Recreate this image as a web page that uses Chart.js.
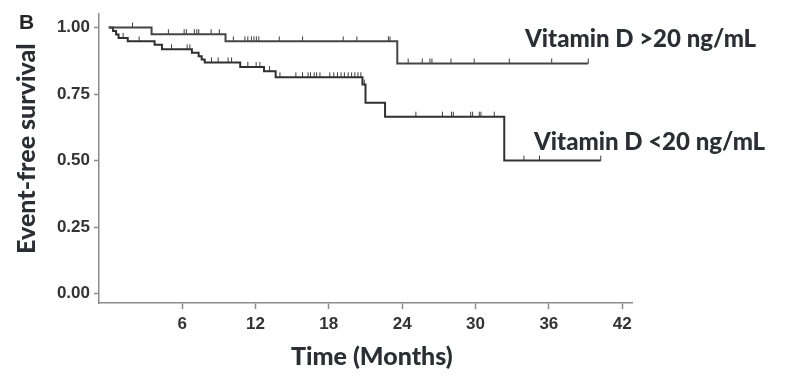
<!DOCTYPE html>
<html>
<head>
<meta charset="utf-8">
<script src="https://cdn.jsdelivr.net/npm/chart.js@4/dist/chart.umd.min.js"></script>
<style>
  html, body { margin: 0; padding: 0; background: #ffffff; }
  #wrap { width: 802px; height: 382px; }
</style>
</head>
<body>
<div id="wrap"><canvas id="c" width="802" height="382"></canvas></div>
<script>
// ---- data ----
const xTickValues = [6, 12, 18, 24, 30, 36, 42];
const yTickValues = [0, 0.25, 0.5, 0.75, 1.0];

const over20Times = [0, 3.5, 9.55, 23.6, 39.22];
const over20Surv  = [1.0, 0.975, 0.948, 0.865, 0.865];
const over20Censor = [1.94, 4.87, 6.16, 6.34, 7.0, 7.2, 7.36, 8.37, 9.04, 10.19, 11.13, 11.37,
  11.66, 11.87, 12.07, 12.27, 13.94, 15.85, 19.17, 20.29, 22.87, 23.0, 24.49, 25.64, 26.27,
  26.43, 27.99, 29.89, 32.76, 36.23, 39.22];

const under20Times = [0, 0.35, 0.6, 0.8, 1.55, 3.75, 4.35, 6.8, 7.35, 7.6, 7.85, 10.75, 12.7,
  13.65, 20.75, 21.0, 22.6, 32.35, 40.24];
const under20Surv  = [1.0, 0.987, 0.974, 0.961, 0.948, 0.935, 0.918, 0.905, 0.892, 0.880, 0.869,
  0.852, 0.836, 0.813, 0.786, 0.717, 0.665, 0.500, 0.500];
const under20Censor = [1.17, 2.48, 5.13, 6.41, 6.63, 8.4, 8.94, 9.76, 10.04, 11.37, 12.05, 12.36,
  13.15, 14.0, 15.3, 15.85, 16.3, 16.5, 16.8, 17.0, 17.27, 18.08, 18.4, 18.7, 19.0, 19.27, 19.58,
  19.86, 20.13, 20.38, 20.62, 20.9, 25.12, 27.29, 28.04, 28.18, 29.6, 29.76, 30.3, 30.44, 31.53,
  33.96, 35.23, 40.24];

const labelOver20 = 'Vitamin D >20 ng/mL';
const labelUnder20 = 'Vitamin D <20 ng/mL';
const xTitle = 'Time (Months)';
const yTitle = 'Event-free survival';
const panelLetter = 'B';

// ---- helpers ----
function stepPoints(times, surv) {
  return times.map((t, i) => ({ x: t, y: surv[i] }));
}
function survAt(times, surv, t) {
  let s = surv[0];
  for (let i = 0; i < times.length; i++) { if (times[i] <= t) s = surv[i]; }
  return s;
}
function censorPoints(cens, times, surv) {
  return cens.map(t => ({ x: t, y: survAt(times, surv, t) }));
}
function makeTick(color) {
  const cv = document.createElement('canvas');
  cv.width = 3; cv.height = 12;
  const g = cv.getContext('2d');
  g.fillStyle = color;
  g.fillRect(1, 1, 1, 5);
  return cv;
}
const tickMark = makeTick('#3c3c3c');

const textPlugin = {
  id: 'texts',
  afterDraw(chart) {
    const ctx = chart.ctx;
    ctx.save();
    ctx.fillStyle = '#2b2e33';
    ctx.textBaseline = 'alphabetic';
    ctx.textAlign = 'left';
    ctx.font = '900 24px Lato';
    ctx.fillText(labelOver20, 525, 47);
    ctx.fillText(labelUnder20, 534, 150);
    ctx.font = '900 25px Lato';
    ctx.fillText(xTitle, 291, 365);
    ctx.save();
    ctx.translate(35, 254);
    ctx.rotate(-Math.PI / 2);
    ctx.fillText(yTitle, 0, 0);
    ctx.restore();
    ctx.fillStyle = '#262626';
    ctx.font = 'bold 21px "Liberation Sans"';
    ctx.fillText(panelLetter, 19, 29);
    ctx.restore();
  }
};

const axisColor = '#8c8c8c';
const tickFont = { family: '"Liberation Sans", Arial, sans-serif', size: 17, weight: 'bold' };

new Chart(document.getElementById('c'), {
  type: 'scatter',
  data: {
    datasets: [
      {
        label: labelOver20,
        data: stepPoints(over20Times, over20Surv),
        showLine: true, stepped: true,
        borderColor: '#454545', borderWidth: 2,
        pointRadius: 0, pointHoverRadius: 0
      },
      {
        label: labelUnder20,
        data: stepPoints(under20Times, under20Surv),
        showLine: true, stepped: true,
        borderColor: '#303030', borderWidth: 2,
        pointRadius: 0, pointHoverRadius: 0
      },
      {
        label: 'censor >20',
        data: censorPoints(over20Censor, over20Times, over20Surv),
        showLine: false, pointStyle: tickMark, pointRadius: 5
      },
      {
        label: 'censor <20',
        data: censorPoints(under20Censor, under20Times, under20Surv),
        showLine: false, pointStyle: tickMark, pointRadius: 5
      }
    ]
  },
  options: {
    responsive: false,
    animation: false,
    devicePixelRatio: 1,
    layout: { padding: { left: 0, right: 170, top: 13, bottom: 0 } },
    plugins: { legend: { display: false }, tooltip: { enabled: false } },
    scales: {
      x: {
        type: 'linear',
        min: -0.8, max: 42.8,
        afterBuildTicks: s => { s.ticks = xTickValues.map(v => ({ value: v })); },
        afterFit: s => { s.height = 79; },
        border: { display: true, color: axisColor, width: 1.5 },
        grid: { drawOnChartArea: false, drawTicks: true, tickLength: 6, tickWidth: 1.5, tickColor: axisColor },
        ticks: { color: '#333333', font: tickFont, padding: 5, maxRotation: 0, autoSkip: false,
                 callback: v => String(v) }
      },
      y: {
        type: 'linear',
        min: -0.035, max: 1.05,
        afterBuildTicks: s => { s.ticks = yTickValues.map(v => ({ value: v })); },
        afterFit: s => { s.width = 99; },
        border: { display: true, color: axisColor, width: 1.5 },
        grid: { drawOnChartArea: false, drawTicks: true, tickLength: 5, tickWidth: 1.5, tickColor: axisColor },
        ticks: { color: '#333333', font: tickFont, padding: 4, autoSkip: false,
                 callback: v => Number(v).toFixed(2) }
      }
    }
  },
  plugins: [textPlugin]
});
</script>
</body>
</html>
